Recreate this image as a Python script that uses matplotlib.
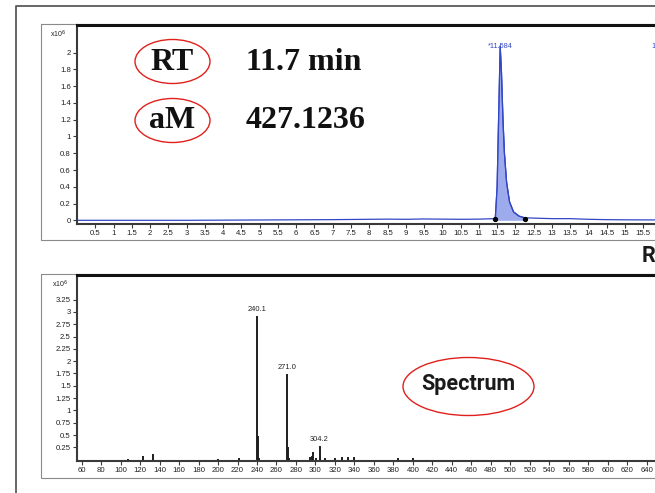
import matplotlib
matplotlib.use("Agg")
import matplotlib.pyplot as plt
from matplotlib.patches import Ellipse, Rectangle

# ---------------- data ----------------
# Total ion chromatogram (retention time in min, intensity x10^6)
tic_time = [0.0, 0.5, 1.0, 2.0, 3.0, 4.0, 5.0, 6.0, 7.0, 7.5, 8.0, 8.5, 9.0, 9.5, 10.0,
            10.5, 11.0, 11.45, 11.50, 11.55, 11.584, 11.62, 11.66, 11.70, 11.76,
            11.84, 11.95, 12.1, 12.25, 12.6, 13.0, 13.5, 14.0, 14.5, 15.0, 15.5, 16.0, 17.0]
tic_value = [0.0, 0.0, 0.0, 0.0, 0.0, 0.002, 0.004, 0.006, 0.008, 0.01, 0.012, 0.014,
             0.012, 0.016, 0.014, 0.012, 0.014, 0.02, 0.4, 1.4, 2.08, 1.75, 1.2, 0.8,
             0.45, 0.22, 0.1, 0.05, 0.03, 0.025, 0.02, 0.02, 0.012, 0.008, 0.006,
             0.005, 0.005, 0.005]
peak_start = 11.45
peak_end = 12.25
peak_rt_label = "*11.584"
peak_rt = 11.584
peak_rt_height = 2.07

tic_xticks = [0.5 * i for i in range(1, 32)]
tic_xticklabels = ["%g" % v for v in tic_xticks]
tic_yticks = [0, 0.2, 0.4, 0.6, 0.8, 1.0, 1.2, 1.4, 1.6, 1.8, 2.0]
tic_yticklabels = ["0", "0.2", "0.4", "0.6", "0.8", "1", "1.2", "1.4", "1.6", "1.8", "2"]

# Mass spectrum (m/z, intensity x10^6)
ms_mz = [108, 123, 133, 200, 222, 240.1, 241.1, 242, 271.0, 272.0, 273, 294, 296, 298,
         301, 304.2, 305, 310, 320, 327, 333, 340, 385, 400]
ms_int = [0.02, 0.07, 0.11, 0.02, 0.03, 2.91, 0.48, 0.03, 1.74, 0.26, 0.03, 0.05, 0.08,
          0.15, 0.04, 0.28, 0.05, 0.03, 0.03, 0.05, 0.06, 0.05, 0.04, 0.03]
ms_labels = ["240.1", "271.0", "304.2"]
ms_label_mz = [240.1, 271.0, 304.2]
ms_label_int = [2.91, 1.74, 0.28]

ms_xticks = list(range(60, 660, 20))
ms_xticklabels = [str(v) for v in ms_xticks]
ms_yticks = [0.25, 0.5, 0.75, 1.0, 1.25, 1.5, 1.75, 2.0, 2.25, 2.5, 2.75, 3.0, 3.25]
ms_yticklabels = ["0.25", "0.5", "0.75", "1", "1.25", "1.5", "1.75", "2", "2.25",
                  "2.5", "2.75", "3", "3.25"]

# ---------------- figure ----------------
W, H = 655, 493
fig = plt.figure(figsize=(W / 100, H / 100), dpi=100)
fig.patch.set_facecolor("white")


def rect(l, t, r, b):
    return [l / W, 1 - b / H, (r - l) / W, (b - t) / H]


tick_font = {"family": "Liberation Sans", "size": 5.6}
dark = "#3a3a3a"

# overlay for frames (behind)
bg = fig.add_axes([0, 0, 1, 1], zorder=0)
bg.set_xlim(0, W)
bg.set_ylim(H, 0)
bg.axis("off")
bg.plot([16, 16, W + 5], [H + 5, 6, 6], color="#5a5a5a", lw=1.3, solid_capstyle="butt")
bg.add_patch(Rectangle((41, 24), W, 216, fill=False, ec="#8a8a8a", lw=0.8))
bg.add_patch(Rectangle((41, 274), W, 203.5, fill=False, ec="#8a8a8a", lw=0.8))


def style_axes(ax):
    ax.set_facecolor("none")
    ax.spines["right"].set_visible(False)
    ax.spines["top"].set_linewidth(2.2)
    ax.spines["top"].set_color("#111111")
    ax.spines["left"].set_linewidth(1.5)
    ax.spines["left"].set_color(dark)
    ax.spines["bottom"].set_linewidth(1.5)
    ax.spines["bottom"].set_color(dark)
    ax.tick_params(axis="both", direction="out", length=3, width=0.8, color=dark,
                   pad=1.5, labelcolor="#222222")


# ---- top: chromatogram ----
ax1 = fig.add_axes(rect(77, 25, 700, 224), zorder=1)
style_axes(ax1)
ax1.set_xlim(0, (700 - 76.7) / 36.55)
ax1.set_ylim(-0.044, 2.33)
line_c = "#3347c4"
ax1.plot(tic_time, tic_value, color=line_c, lw=0.9)
fill_t = [t for t in tic_time if peak_start <= t <= peak_end]
fill_v = [v for t, v in zip(tic_time, tic_value) if peak_start <= t <= peak_end]
ax1.fill_between(fill_t, 0.0, fill_v, color="#93a2ea", alpha=0.9, lw=0)
ax1.plot(fill_t, fill_v, color=line_c, lw=0.9)
ax1.plot([peak_start, peak_end], [0.015, 0.02], "o", color="black", ms=2.8)
ax1.text(peak_rt, peak_rt_height, peak_rt_label, color=line_c, ha="center", va="center",
         fontsize=5.2, family="Liberation Sans")
ax1.text(15.72, peak_rt_height, "1", color=line_c, ha="left", va="center",
         fontsize=5.2, family="Liberation Sans")
ax1.set_xticks(tic_xticks)
ax1.set_xticklabels(tic_xticklabels, fontdict=tick_font)
ax1.set_yticks(tic_yticks)
ax1.set_yticklabels(tic_yticklabels, fontdict=tick_font)

# ---- bottom: spectrum ----
ax2 = fig.add_axes(rect(77, 275, 700, 461), zorder=1)
style_axes(ax2)
ax2.set_xlim(55.2, 55.2 + 623 / 0.974)
ax2.set_ylim(-0.028, 3.75)
ax2.vlines(ms_mz, 0, ms_int, color="#1e1e1e", lw=1.4)
for lab, x, y in zip(ms_labels, ms_label_mz, ms_label_int):
    ax2.text(x, y + 0.06, lab, ha="center", va="bottom", fontsize=5.4,
             family="Liberation Sans", color="#222222")
ax2.set_xticks(ms_xticks)
ax2.set_xticklabels(ms_xticklabels, fontdict=tick_font)
ax2.set_yticks(ms_yticks)
ax2.set_yticklabels(ms_yticklabels, fontdict=tick_font)

# ---- overlay annotations ----
ov = fig.add_axes([0, 0, 1, 1], zorder=3)
ov.set_xlim(0, W)
ov.set_ylim(H, 0)
ov.axis("off")
ov.text(58, 34, r"x10$^6$", ha="center", va="center", fontsize=5, family="Liberation Sans",
        color="#222222")
ov.text(60, 284, r"x10$^6$", ha="center", va="center", fontsize=5, family="Liberation Sans",
        color="#222222")

serif = {"family": "Liberation Serif", "weight": "bold", "size": 23}
ov.add_patch(Ellipse((172.5, 61.5), 75, 44, fill=False, ec="#e0201c", lw=1.0))
ov.add_patch(Ellipse((172.5, 120.5), 75, 44, fill=False, ec="#e0201c", lw=1.0))
ov.text(172.5, 62, "RT", ha="center", va="center", fontdict=serif, color="#111111")
ov.text(172.5, 121, "aM", ha="center", va="center", fontdict=serif, color="#111111")
ov.text(246, 63, "11.7 min", ha="left", va="center", fontdict=serif, color="#111111")
ov.text(246, 121, "427.1236", ha="left", va="center", fontdict=serif, color="#111111")

ov.add_patch(Ellipse((468.5, 386.5), 131, 58, fill=False, ec="#e0201c", lw=1.0))
ov.text(468.5, 384, "Spectrum", ha="center", va="center", family="Roboto",
        weight="bold", fontsize=15.5, color="#1a1a1a")
ov.text(641.5, 256, "R", ha="left", va="center", family="Roboto", weight="bold",
        fontsize=15.5, color="#1a1a1a")

fig.savefig("out.png", dpi=100)
